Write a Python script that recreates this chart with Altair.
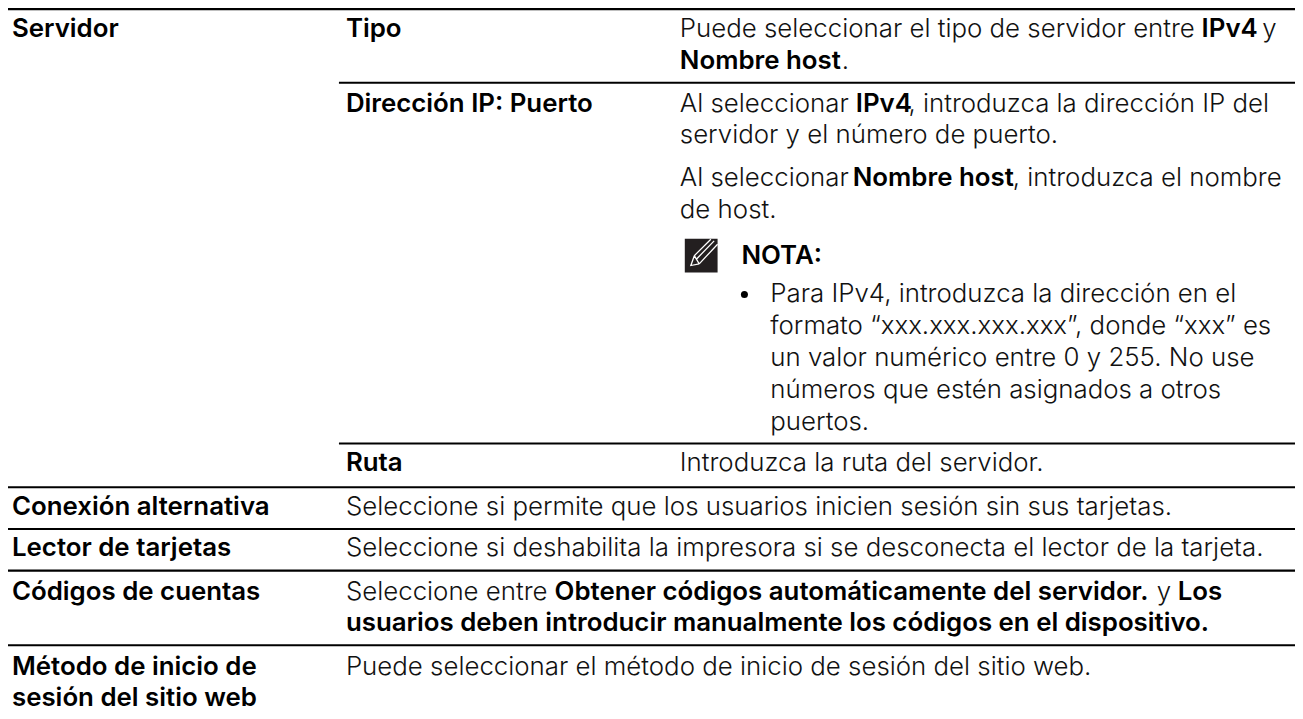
import altair as alt
import pandas as pd

W, H = 1295, 711
FONT = "Inter"

light_text = ["Puede seleccionar el tipo de servidor entre", "y", ".",
              "Al seleccionar", ", introduzca la dirección IP del", "servidor y el número de puerto.",
              "Al seleccionar", ", introduzca el nombre", "de host.",
              "Para IPv4, introduzca la dirección en el", "formato “xxx.xxx.xxx.xxx”, donde “xxx” es",
              "un valor numérico entre 0 y 255. No use", "números que estén asignados a otros", "puertos.",
              "Introduzca la ruta del servidor.",
              "Seleccione si permite que los usuarios inicien sesión sin sus tarjetas.",
              "Seleccione si deshabilita la impresora si se desconecta el lector de la tarjeta.",
              "Seleccione entre", "y",
              "Puede seleccionar el método de inicio de sesión del sitio web."]
light_x = [684, 1270, 847, 684, 914, 684, 684, 1019, 684, 775, 775, 775, 775, 775, 684, 348, 348, 348, 1164, 348]
light_y = [35, 35, 67, 110, 110, 142, 185, 185, 217, 302, 334, 366, 398, 430, 472, 516, 557, 601, 601, 677]

bold_text = ["Servidor", "Tipo", "IPv4", "Nombre host", "Dirección IP: Puerto", "IPv4", "Nombre host", "NOTA:", "Ruta",
             "Conexión alternativa", "Lector de tarjetas", "Códigos de cuentas",
             "Obtener códigos automáticamente del servidor.", "Los",
             "usuarios deben introducir manualmente los códigos en el dispositivo.",
             "Método de inicio de", "sesión del sitio web"]
bold_x = [12, 348, 1209, 684, 348, 861, 858, 746, 348, 12, 12, 12, 558, 1185, 348, 12, 12]
bold_y = [35, 35, 35, 67, 110, 110, 185, 263, 472, 516, 557, 601, 601, 601, 633, 677, 708]

rule_x = [5, 341, 341, 5, 5, 5, 5]
rule_y = [7, 81, 444, 488, 530, 572, 647]
rule_end = [1303] * len(rule_x)

xs = alt.Scale(domain=[8, 8 + W], range=[0, W])
ys = alt.Scale(domain=[8, 8 + H], range=[0, H])
X = alt.X("x:Q", scale=xs, axis=None)
Y = alt.Y("y:Q", scale=ys, axis=None)

light = alt.Chart(pd.DataFrame({"t": light_text, "x": light_x, "y": light_y})).mark_text(
    align="left", baseline="alphabetic", font=FONT, fontSize=26, fontWeight=300, color="#111111"
).encode(x=X, y=Y, text="t:N")
bold = alt.Chart(pd.DataFrame({"t": bold_text, "x": bold_x, "y": bold_y})).mark_text(
    align="left", baseline="alphabetic", font=FONT, fontSize=26, fontWeight=600, color="#000000"
).encode(x=X, y=Y, text="t:N")
rules = alt.Chart(pd.DataFrame({"x": rule_x, "x2": rule_end, "y": rule_y})).mark_rule(
    strokeWidth=2.2, color="#000000"
).encode(x=X, x2="x2:Q", y=Y)

bullet = alt.Chart(pd.DataFrame({"x": [749], "y": [294]})).mark_point(
    shape="circle", filled=True, size=50, color="#000000", opacity=1
).encode(x=X, y=Y)
icon = alt.Chart(pd.DataFrame({"x": [689], "x2": [722], "y": [238], "y2": [272]})).mark_rect(
    color="#231f20"
).encode(x=X, x2="x2:Q", y=Y, y2="y2:Q")
pencil = alt.Chart(pd.DataFrame({"x": [705.5], "y": [255]})).mark_point(
    shape="M-0.42,0 L0.59,-1 M-0.28,0.2 L0.79,-0.9 M-0.12,0.5 L1,-0.7 M-0.42,0 L-0.63,0.6 L-0.12,0.5 M-0.42,0 L-0.12,0.5",
    filled=False, size=1089, color="#ffffff", strokeWidth=1.3, opacity=1
).encode(x=X, y=Y)

chart = (rules + icon + pencil + bullet + light + bold).properties(
    width=W, height=H, padding=0, autosize=alt.AutoSizeParams(type="none")
).configure_view(stroke=None)
chart.save("out.html", embed_options={"renderer": "svg", "actions": False})
